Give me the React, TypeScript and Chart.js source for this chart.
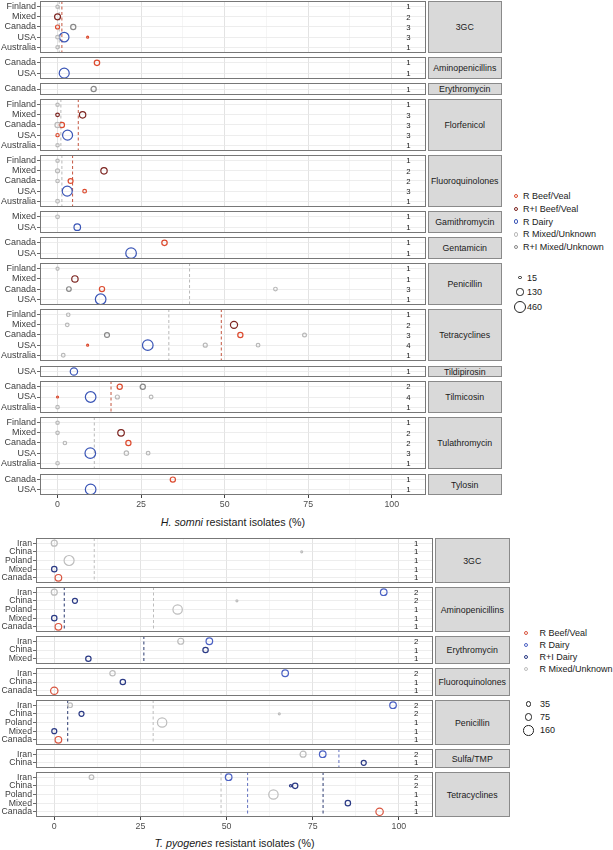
import React, { useEffect, useRef } from "react";
import { Chart, registerables } from "chart.js";
Chart.register(...registerables);

type Pt = [string, string, number, number]; // panel, country, % resistant, isolates

const FONT = '"Liberation Sans", Arial, Helvetica, sans-serif';

// ---------------- H. somni ----------------
const hsPanels = ["3GC", "Aminopenicillins", "Erythromycin", "Florfenicol", "Fluoroquinolones", "Gamithromycin", "Gentamicin", "Penicillin", "Tetracyclines", "Tildipirosin", "Tilmicosin", "Tulathromycin", "Tylosin"];
const hsCountries: string[][] = [
  ["Finland", "Mixed", "Canada", "USA", "Australia"],
  ["Canada", "USA"],
  ["Canada"],
  ["Finland", "Mixed", "Canada", "USA", "Australia"],
  ["Finland", "Mixed", "Canada", "USA", "Australia"],
  ["Mixed", "USA"],
  ["Canada", "USA"],
  ["Finland", "Mixed", "Canada", "USA"],
  ["Finland", "Mixed", "Canada", "USA", "Australia"],
  ["USA"],
  ["Canada", "USA", "Australia"],
  ["Finland", "Mixed", "Canada", "USA", "Australia"],
  ["Canada", "USA"],
];
const hsCounts: number[][] = [[1, 2, 3, 3, 1], [1, 1], [1], [1, 3, 3, 3, 1], [1, 2, 2, 3, 1], [1, 1], [1, 1], [1, 1, 3, 1], [1, 2, 3, 4, 1], [1], [2, 4, 1], [1, 2, 2, 3, 1], [1, 1]];
const hsGroups = ["R Beef/Veal", "R+I Beef/Veal", "R Dairy", "R Mixed/Unknown", "R+I Mixed/Unknown"];

const hsRBeef: Pt[] = [
  ["3GC", "Canada", 0, 60], ["3GC", "USA", 9, 15],
  ["Aminopenicillins", "Canada", 11.8, 108],
  ["Florfenicol", "Canada", 1.3, 100], ["Florfenicol", "USA", 0, 40],
  ["Fluoroquinolones", "Canada", 3.9, 90], ["Fluoroquinolones", "USA", 8.1, 50],
  ["Gentamicin", "Canada", 32, 108],
  ["Penicillin", "Canada", 13.3, 100],
  ["Tetracyclines", "Canada", 54.7, 100], ["Tetracyclines", "USA", 9, 15],
  ["Tilmicosin", "Canada", 18.6, 100], ["Tilmicosin", "USA", 0, 15],
  ["Tulathromycin", "Canada", 21.2, 100],
  ["Tylosin", "Canada", 34.5, 100],
];
const hsRIBeef: Pt[] = [
  ["3GC", "Mixed", 0, 130],
  ["Florfenicol", "Mixed", 0, 50], ["Florfenicol", "Mixed", 7.5, 150],
  ["Fluoroquinolones", "Mixed", 13.9, 150],
  ["Penicillin", "Mixed", 5.2, 150],
  ["Tetracyclines", "Mixed", 52.8, 190],
  ["Tulathromycin", "Mixed", 19, 160],
];
const hsRDairy: Pt[] = [
  ["3GC", "USA", 2, 330], ["Aminopenicillins", "USA", 2, 370], ["Florfenicol", "USA", 3, 370],
  ["Fluoroquinolones", "USA", 2.9, 370], ["Gamithromycin", "USA", 5.9, 160], ["Gentamicin", "USA", 22, 415],
  ["Penicillin", "USA", 12.9, 415], ["Tetracyclines", "USA", 27, 415], ["Tildipirosin", "USA", 4.9, 200],
  ["Tilmicosin", "USA", 9.9, 415], ["Tulathromycin", "USA", 9.8, 415], ["Tylosin", "USA", 9.9, 415],
];
const hsRMixed: Pt[] = [
  ["3GC", "Finland", 0, 43], ["3GC", "USA", 0, 50], ["3GC", "Australia", 0, 43],
  ["Florfenicol", "Finland", 0, 43], ["Florfenicol", "Canada", 0, 100], ["Florfenicol", "Australia", 0, 43],
  ["Fluoroquinolones", "Finland", 0, 43], ["Fluoroquinolones", "Mixed", 0, 60], ["Fluoroquinolones", "Canada", 0, 45], ["Fluoroquinolones", "Australia", 0, 50],
  ["Gamithromycin", "Mixed", 0, 50],
  ["Penicillin", "Finland", 0, 35], ["Penicillin", "Canada", 65.2, 50],
  ["Tetracyclines", "Finland", 3.2, 45], ["Tetracyclines", "Mixed", 2.9, 50], ["Tetracyclines", "Canada", 73.9, 55],
  ["Tetracyclines", "USA", 44.2, 60], ["Tetracyclines", "USA", 60, 50], ["Tetracyclines", "Australia", 1.7, 50],
  ["Tilmicosin", "USA", 17.9, 60], ["Tilmicosin", "USA", 28, 50], ["Tilmicosin", "Australia", 0, 45],
  ["Tulathromycin", "Finland", 0, 43], ["Tulathromycin", "Mixed", 0, 45], ["Tulathromycin", "Canada", 2.2, 45],
  ["Tulathromycin", "USA", 20.6, 70], ["Tulathromycin", "USA", 27.1, 50], ["Tulathromycin", "Australia", 0, 45],
];
const hsRIMixed: Pt[] = [
  ["3GC", "Canada", 4.7, 100], ["Erythromycin", "Canada", 10.8, 100], ["Penicillin", "Canada", 3.4, 80],
  ["Tetracyclines", "Canada", 14.8, 90], ["Tilmicosin", "Canada", 25.5, 100],
];
const hsMedianMixed: [string, number][] = [["3GC", 0.5], ["Florfenicol", 1.0], ["Fluoroquinolones", 1.3], ["Penicillin", 39.5], ["Tetracyclines", 33.3], ["Tulathromycin", 11]];
const hsMedianBeef: [string, number][] = [["3GC", 1.3], ["Florfenicol", 6.2], ["Fluoroquinolones", 4.5], ["Tetracyclines", 49], ["Tilmicosin", 16]];
const hsSizeBreaks = [15, 130, 460];

// ---------------- T. pyogenes ----------------
const tpPanels = ["3GC", "Aminopenicillins", "Erythromycin", "Fluoroquinolones", "Penicillin", "Sulfa/TMP", "Tetracyclines"];
const tpCountries: string[][] = [
  ["Iran", "China", "Poland", "Mixed", "Canada"],
  ["Iran", "China", "Poland", "Mixed", "Canada"],
  ["Iran", "China", "Mixed"],
  ["Iran", "China", "Canada"],
  ["Iran", "China", "Poland", "Mixed", "Canada"],
  ["Iran", "China"],
  ["Iran", "China", "Poland", "Mixed", "Canada"],
];
const tpCounts: number[][] = [[1, 1, 1, 1, 1], [2, 2, 1, 1, 1], [2, 1, 1], [2, 1, 1], [2, 2, 1, 1, 1], [2, 1], [2, 2, 1, 1, 1]];
const tpGroups = ["R Beef/Veal", "R Dairy", "R+I Dairy", "R Mixed/Unknown"];

const tpRBeef: Pt[] = [
  ["3GC", "Canada", 1.2, 80], ["Aminopenicillins", "Canada", 1.2, 80], ["Fluoroquinolones", "Canada", 0, 100],
  ["Penicillin", "Canada", 1.2, 80], ["Tetracyclines", "Canada", 94.4, 100],
];
const tpRDairy: Pt[] = [
  ["Aminopenicillins", "Iran", 95.6, 80], ["Erythromycin", "Iran", 45, 80], ["Fluoroquinolones", "Iran", 67, 80],
  ["Penicillin", "Iran", 98.3, 80], ["Sulfa/TMP", "Iran", 77.9, 80], ["Tetracyclines", "Iran", 50.6, 80],
];
const tpRIDairy: Pt[] = [
  ["3GC", "Mixed", 0, 53], ["Aminopenicillins", "China", 6, 46], ["Aminopenicillins", "Mixed", 0, 53],
  ["Erythromycin", "China", 43.9, 53], ["Erythromycin", "Mixed", 9.9, 53], ["Fluoroquinolones", "China", 19.9, 53],
  ["Penicillin", "China", 7.9, 46], ["Penicillin", "Mixed", 0, 46], ["Sulfa/TMP", "China", 89.8, 46],
  ["Tetracyclines", "China", 68.6, 10], ["Tetracyclines", "China", 69.9, 53], ["Tetracyclines", "Mixed", 85.2, 53],
];
const tpRMixed: Pt[] = [
  ["3GC", "Iran", 0, 66], ["3GC", "China", 71.8, 7], ["3GC", "Poland", 4.3, 183],
  ["Aminopenicillins", "Iran", 0, 66], ["Aminopenicillins", "China", 53, 7], ["Aminopenicillins", "Poland", 35.8, 161],
  ["Erythromycin", "Iran", 36.7, 66], ["Fluoroquinolones", "Iran", 16.9, 53],
  ["Penicillin", "Iran", 4.6, 40], ["Penicillin", "China", 65.3, 7], ["Penicillin", "Poland", 31.3, 161],
  ["Sulfa/TMP", "Iran", 72.2, 66], ["Tetracyclines", "Iran", 10.8, 40], ["Tetracyclines", "Poland", 63.6, 161],
];
const tpMedianMixed: [string, number][] = [["3GC", 11.6], ["Aminopenicillins", 28.8], ["Penicillin", 28.7], ["Tetracyclines", 48.4]];
const tpMedianDairy: [string, number][] = [["Sulfa/TMP", 82.6], ["Tetracyclines", 56.1]];
const tpMedianRIDairy: [string, number][] = [["Aminopenicillins", 2.9], ["Erythromycin", 26], ["Penicillin", 3.9], ["Tetracyclines", 78]];
const tpSizeBreaks = [35, 75, 160];

const xTickLabels = [0, 25, 50, 75, 100];
const xGridValues = xTickLabels.flatMap((v, i) => (i < xTickLabels.length - 1 ? [v, (v + xTickLabels[i + 1]) / 2] : [v]));
const countX = 105;

// ---------------- styles ----------------
const hsColors = ["#dc4a2e", "#7c2420", "#3a55b6", "#b9b9b9", "#888888"];
const tpColors = ["#d9553f", "#4c62c4", "#2b3a85", "#bdbdbd"];
const hsMedColors = { mixed: "#b8b8b8", beef: "#c4553f" };
const tpMedColors = { mixed: "#bdbdbd", dairy: "#6170c0", ridairy: "#2b3a70" };

type Layout = {
  top0: number; s: number; pad: number; gap: number; left: number; right: number;
  xMin: number; xMax: number; stripL: number; stripR: number; k: number; axisH: number; yFont: number;
};
const TOP: Layout = { top0: 1.3, s: 10.05, pad: 5.7, gap: 4.5, left: 40, right: 426, xMin: -5.25, xMax: 110.25, stripL: 427.5, stripR: 502, k: 0.26, axisH: 16, yFont: 9 };
const BOT: Layout = { top0: 538.3, s: 8.6, pad: 5.15, gap: 4.3, left: 36, right: 433, xMin: -5.3, xMax: 109.9, stripL: 434.5, stripR: 510, k: 0.37, axisH: 16, yFont: 8.7 };

type SeriesPts = { color: string; pts: { x: number; y: number; n: number }[] };
type Median = { color: string; value: number };

const isMajor = (v: number) => xTickLabels.includes(v);

function Panel(props: {
  L: Layout; top: number; height: number; countries: string[]; counts: number[];
  series: SeriesPts[]; medians: Median[]; showAxis: boolean;
}) {
  const ref = useRef<HTMLCanvasElement>(null);
  const { L, countries, counts, series, medians, showAxis } = props;
  const h = props.height + (showAxis ? L.axisH : 0);
  useEffect(() => {
    if (!ref.current) return;
    const rowPad = L.pad / L.s;
    const deco = {
      id: "panelDeco",
      beforeDatasetsDraw(chart: any) {
        const { ctx, chartArea: a, scales } = chart;
        ctx.save();
        ctx.lineWidth = 1;
        ctx.setLineDash([3, 2.5]);
        for (const m of medians) {
          const px = scales.x.getPixelForValue(m.value);
          ctx.strokeStyle = m.color;
          ctx.beginPath();
          ctx.moveTo(px, a.top);
          ctx.lineTo(px, a.bottom);
          ctx.stroke();
        }
        ctx.restore();
      },
      afterDatasetsDraw(chart: any) {
        const { ctx, chartArea: a, scales } = chart;
        ctx.save();
        ctx.font = `7.8px ${FONT}`;
        ctx.fillStyle = "#1a1a1a";
        ctx.textAlign = "center";
        ctx.textBaseline = "middle";
        counts.forEach((n, i) => {
          ctx.fillText(String(n), scales.x.getPixelForValue(countX), scales.y.getPixelForValue(i) + 0.5);
        });
        ctx.setLineDash([]);
        ctx.strokeStyle = "#777777";
        ctx.lineWidth = 1;
        ctx.strokeRect(a.left + 0.5, a.top + 0.5, a.right - a.left - 1, a.bottom - a.top - 1);
        ctx.restore();
      },
    };
    const radius = (c: any) => (c.raw ? L.k * Math.sqrt(c.raw.n) : 0);
    const chart = new Chart(ref.current, {
      type: "scatter",
      data: {
        datasets: series.map((s) => ({
          data: s.pts,
          borderColor: s.color,
          backgroundColor: "rgba(0,0,0,0)",
          pointBorderWidth: 1.2,
          pointHoverBorderWidth: 1.2,
          pointRadius: radius,
          pointHoverRadius: radius,
        })),
      } as any,
      options: {
        animation: false,
        responsive: false,
        events: [],
        layout: { padding: 0, autoPadding: false },
        plugins: { legend: { display: false }, tooltip: { enabled: false } },
        scales: {
          x: {
            type: "linear",
            min: L.xMin,
            max: L.xMax,
            afterBuildTicks: (s: any) => { s.ticks = xGridValues.map((v) => ({ value: v })); },
            afterFit: (s: any) => { s.height = showAxis ? L.axisH : 0; s.paddingLeft = 0; s.paddingRight = 0; },
            ticks: {
              display: showAxis, autoSkip: false, maxRotation: 0, padding: 1.5, color: "#4d4d4d",
              font: { family: FONT, size: 8.8 },
              callback: (v: any) => (isMajor(Number(v)) ? String(v) : ""),
            },
            grid: {
              drawTicks: showAxis, tickLength: 3,
              color: (c: any) => (isMajor(c.tick?.value) ? "#e3e3e3" : "#eeeeee"),
              lineWidth: (c: any) => (isMajor(c.tick?.value) ? 1 : 0.6),
              tickColor: (c: any) => (isMajor(c.tick?.value) ? "#444" : "rgba(0,0,0,0)"),
            },
            border: { display: false },
          },
          y: {
            type: "linear",
            reverse: true,
            min: -rowPad,
            max: countries.length - 1 + rowPad,
            afterBuildTicks: (s: any) => { s.ticks = countries.map((_, i) => ({ value: i })); },
            afterFit: (s: any) => { s.width = L.left; s.paddingTop = 0; s.paddingBottom = 0; },
            ticks: {
              autoSkip: false, padding: 1, color: "#3d3d3d",
              font: { family: FONT, size: L.yFont },
              callback: (v: any) => countries[Number(v)] ?? "",
            },
            grid: { color: "#e8e8e8", lineWidth: 0.8, tickLength: 3, tickColor: "#444", drawTicks: true },
            border: { display: false },
          },
        },
      } as any,
      plugins: [deco],
    });
    return () => chart.destroy();
  }, []);
  return (
    <canvas
      ref={ref}
      width={L.right}
      height={h}
      style={{ position: "absolute", left: 0, top: props.top, width: L.right, height: h }}
    />
  );
}

function Half(props: {
  L: Layout; panels: string[]; countries: string[][]; counts: number[][];
  groups: { color: string; pts: Pt[] }[]; medians: { color: string; vals: [string, number][] }[];
}) {
  const { L, panels, countries, counts, groups, medians } = props;
  let y = L.top0;
  const boxes = countries.map((c) => {
    const hh = (c.length - 1) * L.s + 2 * L.pad;
    const top = Math.round(y);
    const bottom = Math.round(y + hh);
    y += hh + L.gap;
    return { top, height: bottom - top };
  });
  return (
    <>
      {panels.map((name, i) => {
        const series: SeriesPts[] = groups
          .map((g) => ({
            color: g.color,
            pts: g.pts.filter((p) => p[0] === name).map((p) => ({ x: p[2], y: countries[i].indexOf(p[1]), n: p[3] })),
          }))
          .filter((s) => s.pts.length > 0);
        const meds: Median[] = medians.flatMap((m) => m.vals.filter((v) => v[0] === name).map((v) => ({ color: m.color, value: v[1] })));
        return (
          <React.Fragment key={name}>
            <Panel
              L={L}
              top={boxes[i].top}
              height={boxes[i].height}
              countries={countries[i]}
              counts={counts[i]}
              series={series}
              medians={meds}
              showAxis={i === panels.length - 1}
            />
            <div
              style={{
                position: "absolute", left: L.stripL, top: boxes[i].top, width: L.stripR - L.stripL, height: boxes[i].height,
                background: "#d9d9d9", border: "1px solid #8a8a8a", boxSizing: "border-box",
                display: "flex", alignItems: "center", justifyContent: "center",
                fontFamily: FONT, fontSize: 8.8, color: "#1a1a1a", whiteSpace: "nowrap",
              }}
            >
              {name}
            </div>
          </React.Fragment>
        );
      })}
    </>
  );
}

function Legend(props: {
  labels: string[]; colors: string[]; dotX: number; textX: number; y0: number; dy: number;
  sizes: number[]; sizeYs: number[]; sizeX: number; sizeTextX: number; k: number;
}) {
  const { labels, colors, dotX, textX, y0, dy, sizes, sizeYs, sizeX, sizeTextX, k } = props;
  const text: React.CSSProperties = { position: "absolute", fontFamily: FONT, fontSize: 9, color: "#1a1a1a", lineHeight: "12px", whiteSpace: "nowrap" };
  const circ = (cx: number, cy: number, r: number, color: string): React.CSSProperties => ({
    position: "absolute", left: cx - r - 0.6, top: cy - r - 0.6, width: 2 * r + 1.2, height: 2 * r + 1.2,
    border: `1.2px solid ${color}`, borderRadius: "50%", boxSizing: "border-box",
  });
  return (
    <>
      {labels.map((l, i) => (
        <React.Fragment key={l}>
          <div style={circ(dotX, y0 + i * dy, 1.7, colors[i])} />
          <div style={{ ...text, left: textX, top: y0 + i * dy - 6 }}>{l}</div>
        </React.Fragment>
      ))}
      {sizes.map((s, i) => (
        <React.Fragment key={s}>
          <div style={circ(sizeX, sizeYs[i], k * Math.sqrt(s), "#222")} />
          <div style={{ ...text, left: sizeTextX, top: sizeYs[i] - 6 }}>{s}</div>
        </React.Fragment>
      ))}
    </>
  );
}

export default function App() {
  const titleStyle: React.CSSProperties = {
    position: "absolute", fontFamily: FONT, fontSize: 10.7, color: "#1a1a1a", textAlign: "center", lineHeight: "13px", whiteSpace: "nowrap",
  };
  return (
    <div style={{ position: "absolute", left: 0, top: 0, width: 613, height: 850, background: "#fff", overflow: "hidden" }}>
      <Half
        L={TOP}
        panels={hsPanels}
        countries={hsCountries}
        counts={hsCounts}
        groups={[
          { color: hsColors[3], pts: hsRMixed },
          { color: hsColors[4], pts: hsRIMixed },
          { color: hsColors[2], pts: hsRDairy },
          { color: hsColors[0], pts: hsRBeef },
          { color: hsColors[1], pts: hsRIBeef },
        ]}
        medians={[
          { color: hsMedColors.mixed, vals: hsMedianMixed },
          { color: hsMedColors.beef, vals: hsMedianBeef },
        ]}
      />
      <div style={{ ...titleStyle, left: TOP.left, width: TOP.right - TOP.left, top: 515.5 }}>
        <i>H. somni</i> resistant isolates (%)
      </div>
      <Legend
        labels={hsGroups} colors={hsColors} dotX={516} textX={523} y0={196} dy={12.8}
        sizes={hsSizeBreaks} sizeYs={[277.5, 292, 307]} sizeX={520} sizeTextX={527} k={TOP.k}
      />
      <Half
        L={BOT}
        panels={tpPanels}
        countries={tpCountries}
        counts={tpCounts}
        groups={[
          { color: tpColors[3], pts: tpRMixed },
          { color: tpColors[1], pts: tpRDairy },
          { color: tpColors[2], pts: tpRIDairy },
          { color: tpColors[0], pts: tpRBeef },
        ]}
        medians={[
          { color: tpMedColors.mixed, vals: tpMedianMixed },
          { color: tpMedColors.dairy, vals: tpMedianDairy },
          { color: tpMedColors.ridairy, vals: tpMedianRIDairy },
        ]}
      />
      <div style={{ ...titleStyle, left: BOT.left, width: BOT.right - BOT.left, top: 836.5 }}>
        <i>T. pyogenes</i> resistant isolates (%)
      </div>
      <Legend
        labels={tpGroups} colors={tpColors} dotX={526} textX={539.5} y0={633} dy={12}
        sizes={tpSizeBreaks} sizeYs={[704, 717.3, 730.3]} sizeX={528.5} sizeTextX={540} k={BOT.k}
      />
    </div>
  );
}
